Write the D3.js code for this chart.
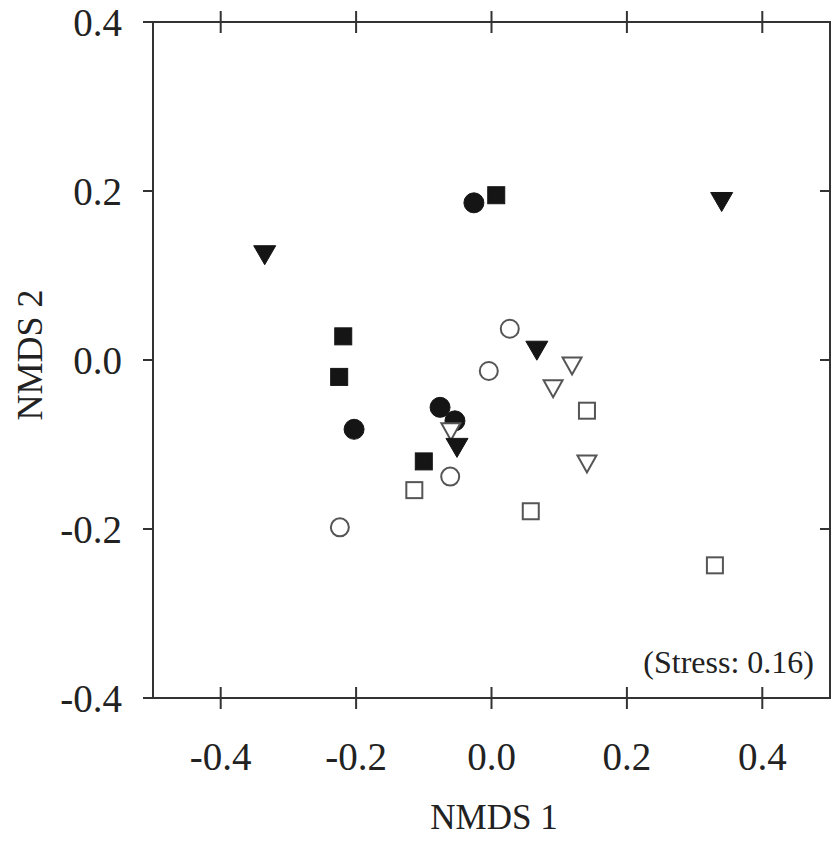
<!DOCTYPE html>
<html>
<head>
<meta charset="utf-8">
<script src="https://cdn.jsdelivr.net/npm/d3@7"></script>
<style>
    body { margin: 0; background: #fff; }
    text { font-family: "Liberation Serif", "DejaVu Serif", serif; fill: #222; }
</style>
</head>
<body>
<svg id="chart" width="833" height="841"></svg>
<script>
// NMDS scores per group (x = NMDS 1, y = NMDS 2)
const filledTriangles = [[-0.335, 0.124], [0.340, 0.187], [0.067, 0.011], [-0.051, -0.104]];
const filledSquares = [[0.007, 0.195], [-0.219, 0.028], [-0.225, -0.020], [-0.100, -0.120]];
const filledCircles = [[-0.026, 0.186], [-0.203, -0.082], [-0.076, -0.056], [-0.054, -0.072]];
const openCircles = [[0.027, 0.037], [-0.004, -0.013], [-0.061, -0.138], [-0.224, -0.198]];
const openTriangles = [[0.119, -0.007], [0.091, -0.034], [-0.060, -0.085], [0.141, -0.123]];
const openSquares = [[0.141, -0.060], [-0.114, -0.154], [0.058, -0.179], [0.330, -0.243]];

const xTicks = [-0.4, -0.2, 0.0, 0.2, 0.4];
const yTicks = [-0.4, -0.2, 0.0, 0.2, 0.4];
const stressLabel = '(Stress: 0.16)';

const svg = d3.select('#chart');
const margin = {top: 22, right: 3, bottom: 143, left: 153};
const width = 833 - margin.left - margin.right;
const height = 841 - margin.top - margin.bottom;

const x = d3.scaleLinear().domain([-0.5, 0.5]).range([margin.left, margin.left + width]);
const y = d3.scaleLinear().domain([-0.4, 0.4]).range([margin.top + height, margin.top]);

const axisColor = '#333';
const fmt = d3.format('.1f');

// frame
svg.append('rect')
    .attr('x', x(-0.5)).attr('y', y(0.4))
    .attr('width', width).attr('height', height)
    .attr('fill', 'none').attr('stroke', axisColor).attr('stroke-width', 2);

// bottom axis: ticks cross the line, labels below
const bottom = svg.append('g').attr('transform', `translate(0,${y(-0.4)})`);
bottom.selectAll('line').data(xTicks).enter().append('line')
    .attr('x1', d => x(d)).attr('x2', d => x(d))
    .attr('y1', -11).attr('y2', 11)
    .attr('stroke', axisColor).attr('stroke-width', 2);
bottom.selectAll('text').data(xTicks).enter().append('text')
    .attr('x', d => x(d)).attr('y', 72)
    .attr('text-anchor', 'middle')
    .style('font-size', '39px')
    .text(d => fmt(d).replace('−', '-'));

// top axis: crossing ticks, no labels
svg.append('g').selectAll('line').data(xTicks).enter().append('line')
    .attr('x1', d => x(d)).attr('x2', d => x(d))
    .attr('y1', y(0.4) - 11).attr('y2', y(0.4) + 11)
    .attr('stroke', axisColor).attr('stroke-width', 2);

// left axis: outward ticks with labels
const left = svg.append('g').attr('transform', `translate(${x(-0.5)},0)`);
left.selectAll('line').data(yTicks).enter().append('line')
    .attr('x1', -10).attr('x2', 0)
    .attr('y1', d => y(d)).attr('y2', d => y(d))
    .attr('stroke', axisColor).attr('stroke-width', 2);
left.selectAll('text').data(yTicks).enter().append('text')
    .attr('x', -31).attr('y', d => y(d))
    .attr('dy', '0.35em')
    .attr('text-anchor', 'end')
    .style('font-size', '39px')
    .text(d => fmt(d).replace('−', '-'));

// right axis: inward ticks
svg.append('g').selectAll('line').data(yTicks).enter().append('line')
    .attr('x1', x(0.5) - 10).attr('x2', x(0.5))
    .attr('y1', d => y(d)).attr('y2', d => y(d))
    .attr('stroke', axisColor).attr('stroke-width', 2);

// axis titles
svg.append('text')
    .attr('x', 494).attr('y', 829)
    .attr('text-anchor', 'middle')
    .style('font-size', '35px')
    .text('NMDS 1');

svg.append('text')
    .attr('transform', `translate(42,355) rotate(-90)`)
    .attr('text-anchor', 'middle')
    .style('font-size', '36px')
    .text('NMDS 2');

svg.append('text')
    .attr('x', x(0.5) - 16).attr('y', y(-0.4) - 25)
    .attr('text-anchor', 'end')
    .style('font-size', '32px')
    .text(stressLabel);

// markers
const dark = '#151515';
const openStroke = '#555';
const pts = svg.append('g');

function drawCircles(data, filled) {
    pts.selectAll(null).data(data).enter().append('circle')
        .attr('cx', d => x(d[0])).attr('cy', d => y(d[1]))
        .attr('r', filled ? 10 : 9)
        .attr('fill', filled ? dark : '#fff')
        .attr('stroke', filled ? dark : openStroke)
        .attr('stroke-width', filled ? 1 : 2);
}

function drawSquares(data, filled) {
    const s = filled ? 17 : 16;
    pts.selectAll(null).data(data).enter().append('rect')
        .attr('x', d => x(d[0]) - s / 2).attr('y', d => y(d[1]) - s / 2)
        .attr('width', s).attr('height', s)
        .attr('fill', filled ? dark : '#fff')
        .attr('stroke', filled ? dark : openStroke)
        .attr('stroke-width', filled ? 1 : 2);
}

function drawTriangles(data, filled) {
    const w = filled ? 22 : 19, h = filled ? 19 : 17;
    pts.selectAll(null).data(data).enter().append('path')
        .attr('d', d => {
            const cx = x(d[0]), cy = y(d[1]);
            return `M${cx - w / 2},${cy - h / 2}L${cx + w / 2},${cy - h / 2}L${cx},${cy + h / 2}Z`;
        })
        .attr('fill', filled ? dark : '#fff')
        .attr('stroke', filled ? dark : openStroke)
        .attr('stroke-width', filled ? 1 : 2)
        .attr('stroke-linejoin', 'miter');
}

drawCircles(filledCircles, true);
drawSquares(filledSquares, true);
drawCircles(openCircles, false);
drawSquares(openSquares, false);
drawTriangles(openTriangles, false);
drawTriangles(filledTriangles, true);
</script>
</body>
</html>
